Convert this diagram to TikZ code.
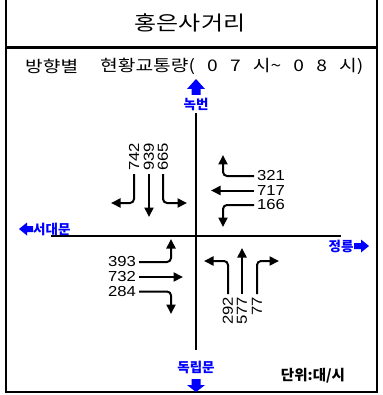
\documentclass[tikz,border=0pt]{standalone}
\usepackage{fontspec}
\usetikzlibrary{arrows.meta}
\newfontfamily\kr{Noto Sans CJK KR}
\newfontfamily\krt[FakeStretch=1.2]{Noto Sans CJK KR}
\newfontfamily\krs[FakeStretch=1.2]{Noto Sans CJK KR}
\newfontfamily\num[FakeStretch=1.15]{Liberation Sans}
\definecolor{dirblue}{RGB}{0,0,255}
\newcommand\gap{\hspace{12.2pt}}
\begin{document}
\begin{tikzpicture}[x=1pt,y=-1pt,
  frame/.style={line width=2.5pt},
  road/.style={line width=2.2pt},
  flow/.style={line width=2pt, rounded corners=4pt, -{Triangle[length=9.5pt,width=9pt]}},
  cnt/.style={font=\num\fontsize{14.5}{14.5}\selectfont, inner sep=0pt, outer xsep=3pt},
  dirlab/.style={font=\kr\bfseries\fontsize{13.5}{13.5}\selectfont, text=dirblue, inner sep=0pt},
  sub/.style={font=\krs\fontsize{16}{16}\selectfont, inner sep=0pt, anchor=west}]
\useasboundingbox (0,0) rectangle (382,395);
% frame
\draw[frame] (6,0) -- (6,392) -- (377,392) -- (377,0);
\draw[line width=3pt] (6,47.5) -- (377,47.5);
% title
\node[font=\krt\fontsize{20}{20}\selectfont, inner sep=0pt] (title) at (190,22.5) {홍은사거리};
\node[sub] (sub1) at (25,66) {방향별};
\node[sub] (sub2) at (100,66) {현황교통량({\gap}0{\gap}7{\gap}시\char"7E{\gap}0{\gap}8{\gap}시)};
% roads
\draw[road] (196,113) -- (196,350);
\draw[road] (51,236) -- (341,236);
% direction labels
\node[dirlab] (nokbeon) at (196,104) {녹번};
\node[dirlab, anchor=west] (seodaemun) at (33,229) {서대문};
\node[dirlab] (jeongneung) at (341,246) {정릉};
\node[dirlab] (dongnipmun) at (196,367) {독립문};
\fill[dirblue] (196,79) -- (205,89) -- (200.5,89) -- (200.5,95) -- (191.5,95) -- (191.5,89) -- (187,89) -- cycle;
\fill[dirblue] (19,229) -- (27,222.5) -- (27,226) -- (33,226) -- (33,232) -- (27,232) -- (27,235.5) -- cycle;
\fill[dirblue] (369,246) -- (361,239.5) -- (361,243) -- (354,243) -- (354,249) -- (361,249) -- (361,252.5) -- cycle;
\fill[dirblue] (196,392) -- (205,385) -- (200.5,385) -- (200.5,379) -- (191.5,379) -- (191.5,385) -- (187,385) -- cycle;
\node[font=\kr\bfseries\fontsize{14.5}{14.5}\selectfont, inner sep=0pt] (unit) at (313,376) {단위:대/시};
% north approach
\node[cnt, rotate=90, anchor=west] (n742) at (134,174) {742};
\node[cnt, rotate=90, anchor=west] (n939) at (149,174) {939};
\node[cnt, rotate=90, anchor=west] (n665) at (163,174) {665};
\draw[flow] (n742.west) |- (111,203);
\draw[flow] (n939.west) -- (149,217);
\draw[flow] (n665.west) |- (187,203);
% east approach
\node[cnt, anchor=west] (n321) at (254,176) {321};
\node[cnt, anchor=west] (n717) at (254,190.5) {717};
\node[cnt, anchor=west] (n166) at (254,205) {166};
\draw[flow] (n321.west) -| (223,155);
\draw[flow] (n717.west) -- (211,190.5);
\draw[flow] (n166.west) -| (223,227);
% west approach
\node[cnt, anchor=east] (n393) at (139,262) {393};
\node[cnt, anchor=east] (n732) at (139,277) {732};
\node[cnt, anchor=east] (n284) at (139,291.5) {284};
\draw[flow] (n393.east) -| (171,239);
\draw[flow] (n732.east) -- (183,277);
\draw[flow] (n284.east) -| (171,314);
% south approach
\node[cnt, rotate=90, anchor=east] (n292) at (228,294) {292};
\node[cnt, rotate=90, anchor=east] (n577) at (242,294) {577};
\node[cnt, rotate=90, anchor=east] (n77) at (257,294) {77};
\draw[flow] (n292.east) |- (204,261);
\draw[flow] (n577.east) -- (242,248);
\draw[flow] (n77.east) |- (279,261);
\end{tikzpicture}
\end{document}
